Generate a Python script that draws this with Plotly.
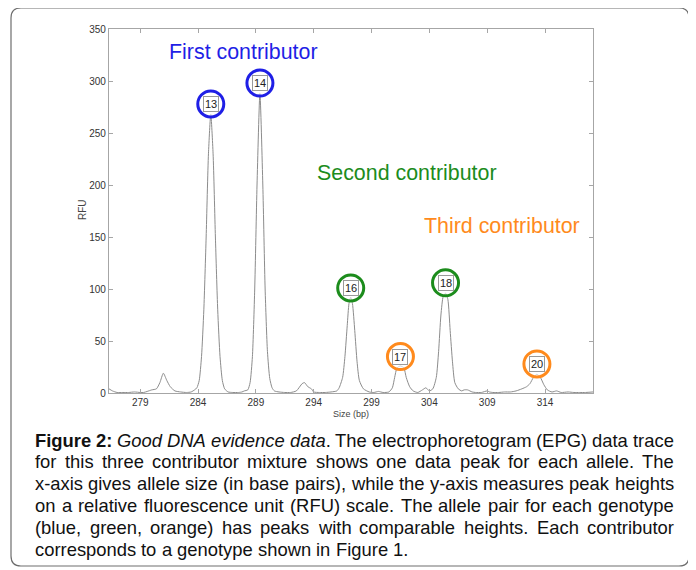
import plotly.graph_objects as go

# ---------------- data ----------------
size_bp = [276.3, 276.6, 277.0, 277.5, 278.0, 278.5, 279.0, 279.3, 279.6, 280.0, 280.4, 280.7,
           281.0, 281.3, 281.6, 282.0, 282.5, 283.0, 283.4, 283.7, 283.9, 284.1, 284.3, 284.5,
           284.7, 284.9, 285.1, 285.3, 285.5, 285.7, 285.9, 286.1, 286.3, 286.6, 287.0, 287.5,
           287.8, 288.0, 288.3, 288.5, 288.7, 288.9, 289.1, 289.35, 289.6, 289.8, 290.0, 290.2,
           290.4, 290.6, 291.0, 291.5, 292.0, 292.5, 293.0, 293.2, 293.5, 293.8, 294.0, 294.5,
           295.0, 295.5, 296.0, 296.2, 296.5, 296.7, 296.9, 297.05, 297.2, 297.35, 297.55, 297.75,
           297.95, 298.3, 298.8, 299.2, 299.6, 300.0, 300.5, 300.8, 301.0, 301.2, 301.5, 301.8,
           302.0, 302.3, 302.6, 303.0, 303.4, 303.7, 304.0, 304.3, 304.6, 304.8, 305.0, 305.2,
           305.4, 305.6, 305.8, 306.0, 306.2, 306.5, 306.8, 307.0, 307.3, 307.7, 308.0, 308.5,
           309.0, 309.2, 309.5, 310.0, 310.5, 311.0, 311.5, 312.0, 312.4, 312.7, 313.0, 313.3,
           313.6, 313.9, 314.2, 314.6, 315.0, 315.4, 316.0, 316.5, 317.0, 317.5, 318.15]
rfu = [4, 2, 0.5, 0.5, 0.5, 1, 0.5, 0.5, 1.5, 3, 4, 10,
       19, 12, 6, 2, 1, 0.5, 1, 3, 5, 12, 35, 80,
       150, 230, 268, 230, 150, 80, 35, 12, 4, 1, 0.5, 0.5,
       1, 2, 3, 10, 35, 100, 200, 288, 200, 100, 40, 14,
       5, 2, 1, 0.5, 0.5, 2, 9, 10, 6, 4, 1, 0.5,
       0.5, 1, 2, 5, 15, 35, 65, 86, 92, 86, 60, 30,
       12, 4, 1, 0.5, 1.5, 0.5, 1, 5, 15, 24, 26, 24,
       15, 6, 2, 0.5, 3, 5, 2, 4, 15, 40, 75, 93,
       96, 90, 60, 30, 10, 4, 2, 3, 3, 1, 0.5, 0.5,
       2, 1, 0.5, 0.5, 1, 1, 2, 4, 6, 9, 15, 18,
       15, 8, 3, 1, 2, 0.5, 1, 0.5, 0.5, 0.5, 1]

allele_labels = ["13", "14", "16", "17", "18", "20"]
allele_x = [285.1, 289.35, 297.2, 301.5, 305.4, 313.3]
allele_y = [278, 298, 101, 35, 106, 28]
allele_colors = ["#1f1fe6", "#1f1fe6", "#1c8c1c", "#ff8a1c", "#1c8c1c", "#ff8a1c"]

contributors = ["First contributor", "Second contributor", "Third contributor"]
contrib_colors = ["#1f1fe6", "#1c8c1c", "#ff8a1c"]
contrib_x = [287.9, 302.1, 310.3]
contrib_y = [328, 212, 161]

y_ticks = [0, 50, 100, 150, 200, 250, 300, 350]
x_ticks = [279, 284, 289, 294, 299, 304, 309, 314]

caption_lines = [
    ["<b>Figure</b>", "<b>2:</b>", "<i>Good</i>", "<i>DNA</i>", "<i>evidence</i>", "<i>data</i>.",
     "The", "electrophoretogram", "(EPG)", "data", "trace"],
    "for this three contributor mixture shows one data peak for each allele. The".split(),
    "x-axis gives allele size (in base pairs), while the y-axis measures peak heights".split(),
    "on a relative fluorescence unit (RFU) scale. The allele pair for each genotype".split(),
    "(blue, green, orange) has peaks with comparable heights. Each contributor".split(),
    "corresponds to a genotype shown in Figure 1.".split(),
]

# ---------------- layout geometry (reference pixels) ----------------
# The page body has an 8px margin, so the figure is drawn 8px smaller and
# all reference-pixel positions are expressed relative to the plot area.
OFF = 8
W, H = 696 - OFF, 570 - OFF
L, R, T, B = 109, 593, 29, 393
PW, PH = R - L, B - T


def px(x):
    return (x - L) / PW


def py(y):
    return (B - y) / PH


FONT = "Arial, Liberation Sans, sans-serif"

fig = go.Figure()
fig.add_trace(go.Scatter(x=size_bp, y=rfu, mode="lines",
                         line=dict(color="#8c8c8c", width=1, shape="spline", smoothing=0.6),
                         hoverinfo="skip", showlegend=False))
fig.add_trace(go.Scatter(x=allele_x, y=allele_y, mode="markers",
                         marker=dict(symbol="circle", size=26, color="rgba(255,255,255,0.6)",
                                     line=dict(color=allele_colors, width=3)),
                         showlegend=False, hoverinfo="skip"))

annotations = []
for lab, x, y in zip(allele_labels, allele_x, allele_y):
    annotations.append(dict(x=x, y=y, xref="x", yref="y", text=lab, showarrow=False,
                            font=dict(family=FONT, size=11, color="#222"),
                            bgcolor="white", bordercolor="#9a9a9a", borderwidth=1, borderpad=1))
for t, c, x, y in zip(contributors, contrib_colors, contrib_x, contrib_y):
    annotations.append(dict(x=x, y=y, xref="x", yref="y", text=t, showarrow=False,
                            font=dict(family=FONT, size=21.4, color=c)))

annotations.append(dict(x=px(351), y=py(414), xref="paper", yref="paper", text="Size (bp)",
                        xanchor="center", yanchor="middle",
                        showarrow=False, font=dict(family=FONT, size=9, color="#444")))
annotations.append(dict(x=px(82), y=py(210), xref="paper", yref="paper", text="RFU",
                        xanchor="center", yanchor="middle",
                        textangle=-90, showarrow=False, font=dict(family=FONT, size=10, color="#444")))

# ---- justified caption, word by word (Arial metrics) ----
AW = {' ': 278, '!': 278, '(': 333, ')': 333, ',': 278, '-': 333, '.': 278, ':': 278,
      '0': 556, '1': 556, '2': 556, '3': 556, '4': 556, '5': 556, '6': 556, '7': 556, '8': 556, '9': 556,
      'A': 667, 'B': 667, 'C': 722, 'D': 722, 'E': 667, 'F': 611, 'G': 778, 'H': 722, 'I': 278,
      'J': 500, 'K': 667, 'L': 556, 'M': 833, 'N': 722, 'O': 778, 'P': 667, 'Q': 778, 'R': 722,
      'S': 667, 'T': 611, 'U': 722, 'V': 667, 'W': 944, 'X': 667, 'Y': 667, 'Z': 611,
      'a': 556, 'b': 556, 'c': 500, 'd': 556, 'e': 556, 'f': 278, 'g': 556, 'h': 556, 'i': 222,
      'j': 222, 'k': 500, 'l': 222, 'm': 833, 'n': 556, 'o': 556, 'p': 556, 'q': 556, 'r': 333,
      's': 500, 't': 278, 'u': 556, 'v': 500, 'w': 722, 'x': 500, 'y': 500, 'z': 500}
BW = {'F': 611, 'i': 278, 'g': 611, 'u': 611, 'r': 389, 'e': 556, '2': 556, ':': 333}


def word_width(w, fs):
    bold = w.startswith("<b>")
    s = w.replace("<b>", "").replace("</b>", "").replace("<i>", "").replace("</i>", "")
    tab = BW if bold else AW
    return sum(tab.get(ch, AW.get(ch, 556)) for ch in s) * fs / 1000.0


CAP_FS = 18.4
CAP_L, CAP_R = 33, 672
line_y0, line_dy = 440, 21.8
for i, words in enumerate(caption_lines):
    yy = line_y0 + i * line_dy
    widths = [word_width(w, CAP_FS) for w in words]
    last = i == len(caption_lines) - 1
    if last or len(words) < 2:
        gap = 0.278 * CAP_FS
    else:
        gap = (CAP_R - CAP_L - sum(widths)) / (len(words) - 1)
    x = CAP_L
    for w, ww in zip(words, widths):
        annotations.append(dict(x=px(x), y=py(yy), xref="paper", yref="paper", text=w,
                                xanchor="left", yanchor="middle", showarrow=False,
                                font=dict(family=FONT, size=CAP_FS, color="#111")))
        x += ww + gap

# rounded outer frame
x0, x1, y0, y1, r = px(11), px(689), py(8), py(566), 10 / PW
ry = 10 / PH
path = (f"M {x0 + r},{y0} L {x1 - r},{y0} Q {x1},{y0} {x1},{y0 - ry} "
        f"L {x1},{y1 + ry} Q {x1},{y1} {x1 - r},{y1} L {x0 + r},{y1} Q {x0},{y1} {x0},{y1 + ry} "
        f"L {x0},{y0 - ry} Q {x0},{y0} {x0 + r},{y0} Z")
shapes = [dict(type="path", path=path, xref="paper", yref="paper",
               line=dict(color="#6e6e6e", width=1.2))]

axis_common = dict(showline=True, linecolor="#a6a6a6", linewidth=1.2, mirror="ticks",
                   ticks="inside", ticklen=4, tickcolor="#a6a6a6", showgrid=False, zeroline=False,
                   tickfont=dict(family=FONT, size=10, color="#333"))
fig.update_layout(
    width=W, height=H, autosize=False,
    margin=dict(l=L - OFF, r=(W + OFF) - R, t=T - OFF, b=(H + OFF) - B, pad=0),
    paper_bgcolor="white", plot_bgcolor="white",
    xaxis=dict(range=[276.3, 318.15], tickvals=x_ticks, ticktext=[str(v) for v in x_ticks], **axis_common),
    yaxis=dict(range=[0, 350], tickvals=y_ticks, ticktext=[str(v) for v in y_ticks], **axis_common),
    annotations=annotations, shapes=shapes, showlegend=False,
)
fig.write_html("out.html")
